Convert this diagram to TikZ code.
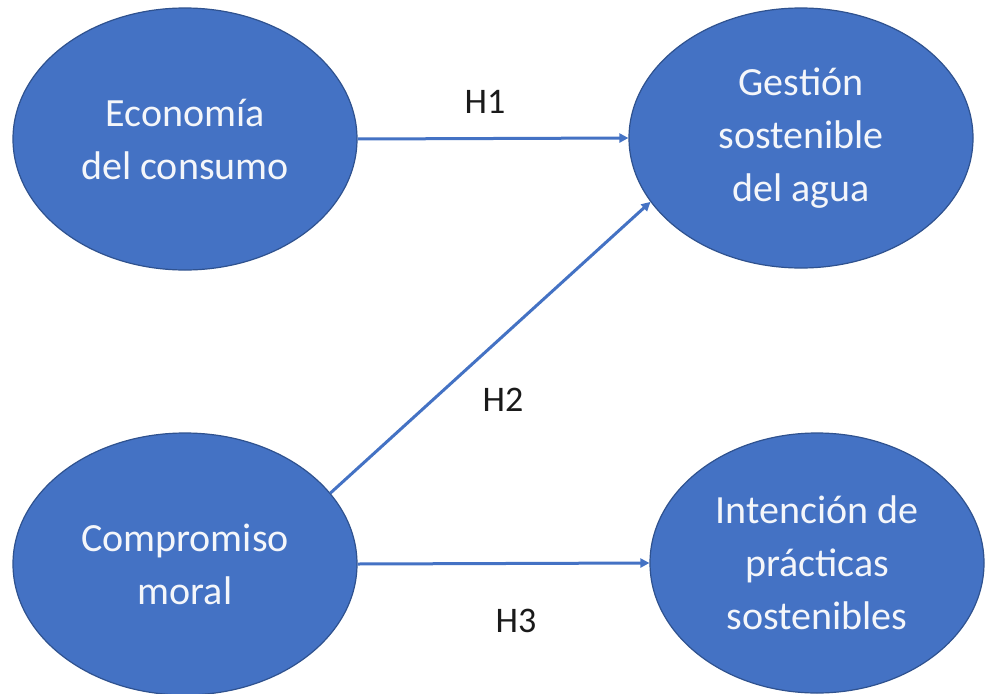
\documentclass[tikz,border=0pt]{standalone}
\usepackage{fontspec}
\setmainfont{Carlito}
\usetikzlibrary{arrows.meta,shapes.geometric}
\definecolor{ofblue}{HTML}{4472C4}
\definecolor{ofedge}{HTML}{2F528F}
\definecolor{oftext}{HTML}{F4F6FA}
\definecolor{labtext}{HTML}{1A1A1A}
\tikzset{
  construct/.style={ellipse, fill=ofblue, draw=ofedge, line width=1.2pt,
    inner sep=0pt, align=center, text=oftext,
    font=\fontsize{40}{53}\selectfont},
  hyp/.style={draw=ofblue, line width=3pt,
    -{Triangle[length=9pt,width=9pt]}},
  hlabel/.style={text=labtext, inner sep=0pt, font=\fontsize{36}{40}\selectfont}
}
\begin{document}
\begin{tikzpicture}[x=1pt,y=-1pt]
\useasboundingbox (0,0) rectangle (987,693);
\fill[white] (0,0) rectangle (987,693);
\node[construct, minimum width=344pt, minimum height=262pt] (eco) at (185,139) {Economía\\del consumo};
\node[construct, minimum width=344pt, minimum height=260pt] (ges) at (801,138) {Gestión\\sostenible\\del agua};
\node[construct, minimum width=344pt, minimum height=262pt] (com) at (185,564) {Compromiso\\moral};
\node[construct, minimum width=334pt, minimum height=260pt] (int) at (817,563) {Intención de\\prácticas\\sostenibles};
\draw[hyp] (eco.east) -- (ges.west);
\draw[hyp] (com.26.7) -- (ges.203.9);
\draw[hyp] (com.east) -- (int.west);
\node[hlabel] (h1) at (485,102) {H1};
\node[hlabel] (h2) at (503,400) {H2};
\node[hlabel] (h3) at (516,621) {H3};
\end{tikzpicture}
\end{document}
